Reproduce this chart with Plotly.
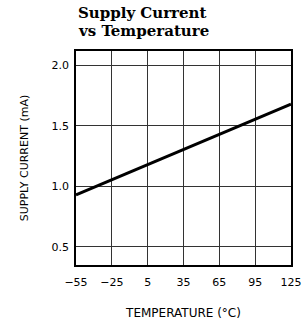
import plotly.graph_objects as go

temperature = [-55, 125]
supply_current = [0.93, 1.68]
x_ticks = [-55, -25, 5, 35, 65, 95, 125]
y_ticks = [0.5, 1.0, 1.5, 2.0]
y_tick_labels = ["0.5", "1.0", "1.5", "2.0"]
title_lines = ["Supply Current", "vs Temperature"]

fig = go.Figure()
fig.add_trace(go.Scatter(x=temperature, y=supply_current, mode="lines",
                         line=dict(color="black", width=3), showlegend=False,
                         hoverinfo="skip"))

tick_font = dict(family="DejaVu Sans", size=11, color="black")
title_font_x = dict(family="DejaVu Sans", size=12, color="black")
title_font_y = dict(family="DejaVu Sans", size=11, color="black")
title_font = dict(family="DejaVu Serif", size=15, color="black")

fig.update_layout(
    width=305, height=322,
    margin=dict(l=75.5, r=14, t=51, b=57, autoexpand=False),
    paper_bgcolor="white", plot_bgcolor="white",
    xaxis=dict(range=[-55, 125], tickvals=x_ticks, ticktext=[str(v).replace("-", "\u2212") for v in x_ticks],
               showgrid=True, gridcolor="#333333", gridwidth=1,
               showline=True, linecolor="black", linewidth=1.5, mirror=True,
               ticks="", tickfont=tick_font, zeroline=False, automargin=False,
               ticklabelstandoff=6, ticklabeloverflow="allow",
               title=dict(text="TEMPERATURE (°C)", font=title_font_x, standoff=21)),
    yaxis=dict(range=[0.35, 2.12], tickvals=y_ticks, ticktext=y_tick_labels,
               showgrid=True, gridcolor="#333333", gridwidth=1,
               showline=True, linecolor="black", linewidth=1.5, mirror=True,
               ticks="", tickfont=tick_font, zeroline=False, automargin=False,
               ticklabelstandoff=3,
               title=dict(text="SUPPLY CURRENT (mA)", font=title_font_y, standoff=21)),
    annotations=[
        dict(text="<b>%s</b>" % title_lines[0], xref="paper", yref="paper",
             x=0, y=1, yshift=38, xanchor="left", yanchor="middle",
             showarrow=False, font=title_font),
        dict(text="<b>%s</b>" % title_lines[1], xref="paper", yref="paper",
             x=0, y=1, yshift=20, xanchor="left", yanchor="middle",
             showarrow=False, font=title_font),
    ],
)
fig.write_html("out.html", config={"displayModeBar": False},
               post_script="document.body.style.margin='0';document.body.style.overflow='hidden';")
